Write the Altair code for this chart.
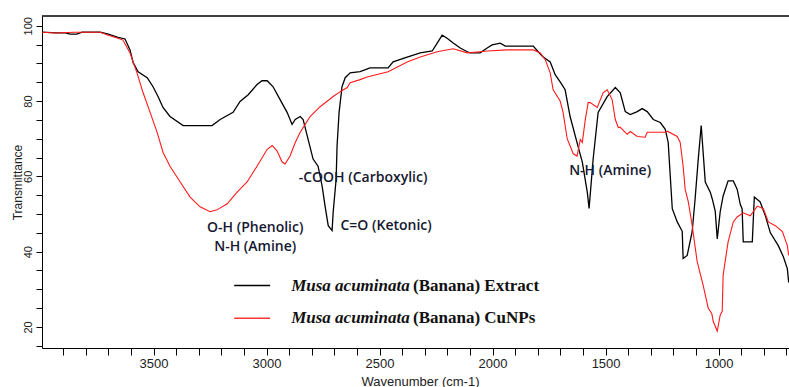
import altair as alt
import pandas as pd

# ---------------- data ----------------
extract_wn = [3993, 3930, 3890, 3869, 3840, 3816, 3736, 3700, 3657, 3626, 3604, 3590, 3568, 3528,
              3502, 3480, 3458, 3427, 3369, 3241, 3205, 3148, 3117, 3081, 3042, 3020, 2997, 2971,
              2940, 2909, 2887, 2873, 2851, 2838, 2816, 2794, 2772, 2754, 2741, 2727, 2710, 2705,
              2692, 2688, 2679, 2666, 2652, 2630, 2586, 2542, 2462, 2440, 2378, 2320, 2267, 2245,
              2223, 2201, 2174, 2143, 2112, 2099, 2055, 2024, 2002, 1966, 1944, 1820, 1798, 1776,
              1745, 1723, 1701, 1679, 1657, 1626, 1603, 1581, 1573, 1555, 1533, 1493, 1457, 1435,
              1413, 1391, 1360, 1338, 1316, 1289, 1258, 1236, 1223, 1205, 1183, 1161, 1157, 1139,
              1117, 1104, 1090, 1077, 1068, 1059, 1037, 1028, 1015, 1006, 993, 980, 958, 935, 918,
              904, 896, 891, 851, 842, 816, 793, 771, 736, 714, 696, 690]
extract_t = [98.3, 98.1, 98.1, 97.8, 97.8, 98.3, 98.3, 97.8, 96.9, 96.5, 93.6, 90.2, 87.8, 86.2,
             83.8, 81.2, 78.3, 75.9, 73.5, 73.5, 75.1, 77.0, 79.9, 81.7, 84.4, 85.4, 85.4, 83.8,
             80.4, 77.0, 73.8, 75.1, 75.9, 75.1, 69.8, 64.6, 62.7, 57.4, 52.1, 46.9, 45.6, 50.6,
             59.3, 68.0, 77.0, 83.8, 86.2, 87.5, 87.8, 88.8, 88.8, 90.4, 91.7, 92.8, 93.3, 95.4,
             97.5, 96.7, 95.4, 94.1, 93.1, 92.8, 92.8, 94.1, 94.9, 95.4, 94.6, 94.6, 93.1, 91.7,
             90.4, 87.0, 85.1, 83.0, 75.9, 68.9, 63.8, 55.8, 51.5, 64.6, 77.0, 81.2, 83.6, 82.2,
             77.2, 76.4, 77.2, 78.0, 77.2, 75.1, 74.3, 72.5, 69.0, 51.4, 47.9, 45.4, 38.2, 39.0,
             45.3, 54.0, 64.6, 73.5, 66.0, 58.5, 55.8, 54.0, 50.8, 43.4, 50.6, 54.8, 58.8, 58.8, 56.6,
             52.5, 51.4, 42.6, 42.6, 54.5, 53.2, 49.5, 45.0, 41.6, 38.7, 35.5, 31.8]

cunps_wn = [3993, 3930, 3850, 3736, 3700, 3657, 3635, 3604, 3573, 3546, 3515, 3484, 3458, 3427,
            3382, 3338, 3294, 3250, 3219, 3174, 3130, 3086, 3042, 2997, 2975, 2953, 2931, 2918,
            2896, 2873, 2851, 2829, 2807, 2763, 2705, 2674, 2643, 2630, 2586, 2555, 2462, 2378,
            2320, 2245, 2174, 2112, 2055, 2024, 1935, 1820, 1789, 1776, 1767, 1745, 1732, 1701,
            1688, 1670, 1643, 1626, 1612, 1603, 1590, 1577, 1568, 1537, 1511, 1493, 1471, 1457,
            1444, 1435, 1413, 1404, 1391, 1360, 1325, 1316, 1236, 1227, 1183, 1170, 1157, 1148,
            1134, 1117, 1095, 1068, 1046, 1030, 1024, 1006, 993, 984, 980, 971, 958, 935, 918,
            891, 860, 829, 802, 780, 749, 718, 696, 690]
cunps_t = [98.3, 98.1, 98.3, 98.3, 97.5, 96.7, 96.2, 92.8, 87.5, 82.2, 77.0, 71.7, 66.4, 62.7,
           58.5, 54.5, 51.9, 50.6, 51.1, 52.7, 55.8, 58.5, 62.7, 67.2, 68.2, 66.7, 63.8, 63.3,
           65.4, 69.0, 71.7, 73.8, 75.9, 78.5, 81.2, 82.5, 83.6, 84.9, 85.7, 86.4, 87.8, 90.4,
           91.7, 93.1, 93.9, 92.8, 93.1, 93.3, 93.6, 93.6, 92.8, 91.7, 91.0, 87.5, 83.0, 80.0,
           77.0, 70.0, 66.0, 65.4, 69.8, 69.0, 75.0, 79.6, 79.6, 78.3, 82.2, 83.0, 80.4, 75.1,
           73.0, 73.0, 71.7, 71.2, 71.9, 70.6, 70.4, 71.7, 71.7, 72.0, 70.6, 69.0, 62.7, 56.6,
           53.2, 47.0, 37.4, 31.0, 25.0, 23.5, 21.5, 18.9, 23.1, 24.2, 33.7, 37.4, 42.6, 47.9, 49.2,
           50.3, 49.5, 52.1, 51.4, 47.9, 46.9, 45.3, 41.6, 39.0]

ann_text = ["O-H (Phenolic)", "N-H (Amine)", "-COOH (Carboxylic)", "C=O (Ketonic)", "N-H (Amine)"]
ann_wn = [3050, 3050, 2573, 2471, 1480]
ann_t = [46.4, 41.1, 59.5, 46.9, 61.4]

legend_series = ["Extract", "CuNPs"]
legend_species = ["Musa acuminata", "Musa acuminata"]
legend_rest = ["(Banana) Extract", "(Banana) CuNPs"]
legend_t = [31.0, 22.3]
legend_line_start = [3143, 3143]
legend_line_end = [2984, 2984]
legend_species_wn = [2891, 2891]
legend_rest_wn = [2352, 2352]

x_ticks = list(range(700, 4000, 100))
y_ticks = list(range(15, 101, 5))

# ---------------- chart ----------------
df_ext = pd.DataFrame({"wn": extract_wn, "T": extract_t})
df_cu = pd.DataFrame({"wn": cunps_wn, "T": cunps_t})
df_ann = pd.DataFrame({"text": ann_text, "wn": ann_wn, "T": ann_t})
df_leg = pd.DataFrame({"series": legend_series, "species": legend_species, "rest": legend_rest,
                       "T": legend_t, "x1": legend_line_start, "x2": legend_line_end,
                       "xs": legend_species_wn, "xr": legend_rest_wn})

xscale = alt.Scale(domain=[688.6, 3993.3], reverse=True, nice=False, zero=False)
yscale = alt.Scale(domain=[14.4, 102.6], nice=False, zero=False)

xaxis = alt.Axis(values=x_ticks, format="d",
                 labelExpr="datum.value % 500 === 0 ? datum.label : ''",
                 labelOverlap=False, labelFlush=False, labelBound=False,
                 title="Wavenumber (cm-1)", grid=False, tickSize=7,
                 labelFont="Liberation Sans", labelFontSize=13, labelPadding=2,
                 titleFont="Liberation Sans", titleFontSize=13, titleFontWeight="normal",
                 titleX=378, titleY=33, titleBaseline="middle", titleAlign="center",
                 domainColor="black", tickColor="black", labelColor="#222", titleColor="#222")
yaxis = alt.Axis(values=y_ticks, format="d",
                 labelExpr="datum.value % 20 === 0 ? datum.label : ''",
                 labelOverlap=False, labelFlush=False, labelBound=False,
                 title="Transmittance", grid=False, tickSize=6,
                 labelAngle=270, labelAlign="center", labelBaseline="bottom",
                 labelFont="Liberation Sans", labelFontSize=11, labelPadding=3,
                 titleFont="Liberation Sans", titleFontSize=12, titleFontWeight="normal",
                 titleAngle=270, titleX=-25, titleY=166, titleBaseline="middle", titleAlign="center",
                 domainColor="black", tickColor="black", labelColor="#222", titleColor="#222")

X = lambda f: alt.X(f, scale=xscale, axis=xaxis)
Y = lambda f: alt.Y(f, scale=yscale, axis=yaxis)

black = alt.Chart(df_ext).mark_line(color="black", strokeWidth=1.3).encode(
    x=X("wn:Q"), y=Y("T:Q"), order=alt.Order("wn:Q", sort="descending"))
red = alt.Chart(df_cu).mark_line(color="#ff1a1a", strokeWidth=1.1).encode(
    x=X("wn:Q"), y=Y("T:Q"), order=alt.Order("wn:Q", sort="descending"))

ann = alt.Chart(df_ann).mark_text(font="Open Sans", fontSize=14, fontWeight=600, color="#141830",
                                  align="center", baseline="middle").encode(
    x=X("wn:Q"), y=Y("T:Q"), text="text:N")

leg_lines = alt.Chart(df_leg).mark_rule(strokeWidth=1.5).encode(
    x=X("x1:Q"), x2="x2:Q", y=Y("T:Q"),
    color=alt.Color("series:N", scale=alt.Scale(domain=["Extract", "CuNPs"],
                                                range=["#000000", "#ff3333"]), legend=None))
leg_species = alt.Chart(df_leg).mark_text(font="Liberation Serif", fontSize=17, fontStyle="italic",
                                          fontWeight="bold", color="#111", align="left",
                                          baseline="middle").encode(
    x=X("xs:Q"), y=Y("T:Q"), text="species:N")
leg_rest = alt.Chart(df_leg).mark_text(font="Liberation Serif", fontSize=17, fontWeight="bold",
                                       color="#111", align="left", baseline="middle").encode(
    x=X("xr:Q"), y=Y("T:Q"), text="rest:N")

top_border = alt.Chart(df_leg).mark_rule(color="black", strokeWidth=1).encode(y=alt.value(0))

chart = alt.layer(top_border, black, red, ann, leg_lines, leg_species, leg_rest).properties(
    width=747, height=332,
    autosize=alt.AutoSizeParams(type="none"),
    padding={"left": 42, "top": 16, "right": 0, "bottom": 39},
    background="white",
).configure_view(stroke=None).configure_axis(labelOverlap=False, labelSeparation=0)

chart.save("out.html", embed_options={"renderer": "svg", "actions": False})
